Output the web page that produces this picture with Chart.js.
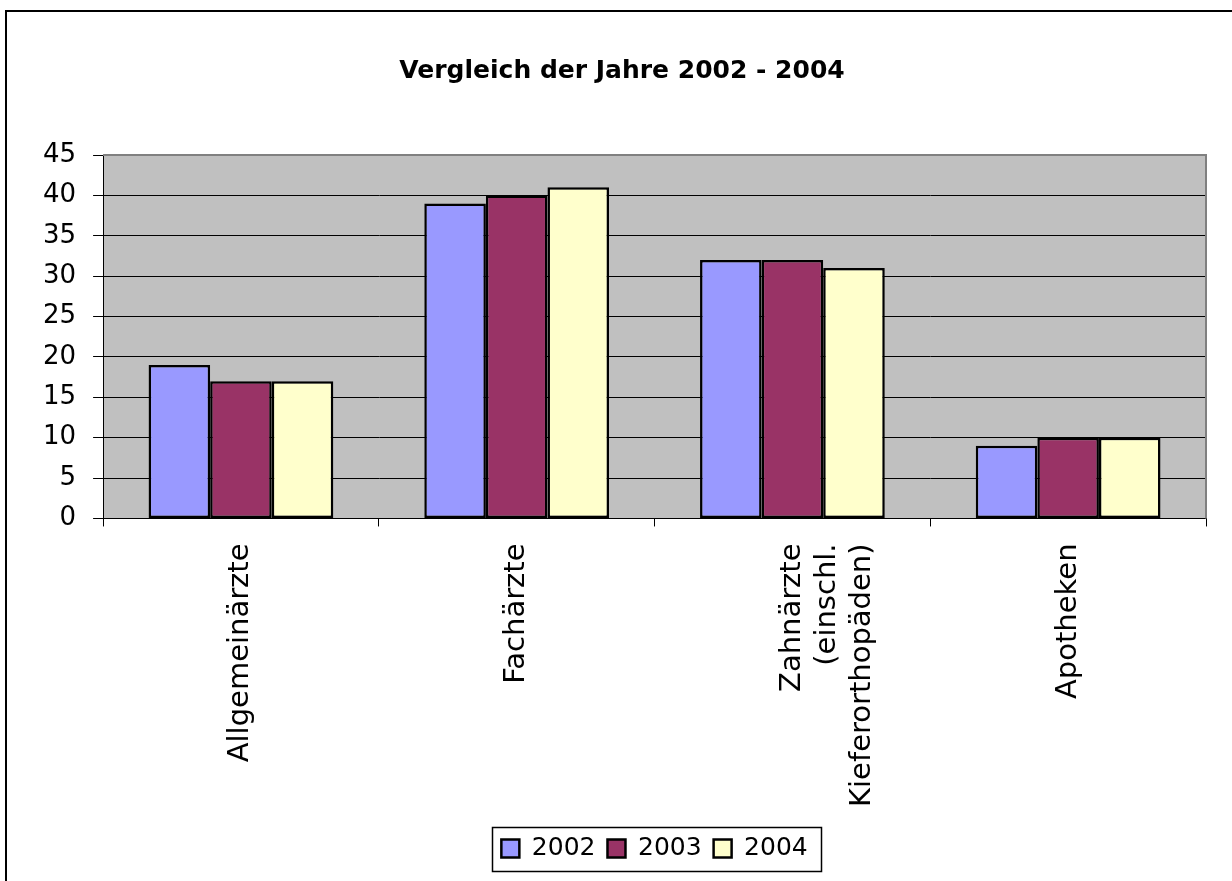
<!DOCTYPE html>
<html>
<head>
<meta charset="utf-8">
<script src="https://cdn.jsdelivr.net/npm/chart.js@4"></script>
<style>
  html, body { margin: 0; padding: 0; background: #fff; }
  #wrap { width: 1232px; height: 881px; position: relative; }
</style>
</head>
<body>
<div id="wrap"><canvas id="chart"></canvas></div>
<script>
// Chart data
var categories = ['Allgemeinärzte', 'Fachärzte', ['Zahnärzte', '(einschl.', 'Kieferorthopäden)'], 'Apotheken'];
var years = ['2002', '2003', '2004'];
var values2002 = [19, 39, 32, 9];
var values2003 = [17, 40, 32, 10];
var values2004 = [17, 41, 31, 10];
var yMin = 0, yMax = 45, yStep = 5;
var titleText = 'Vergleich der Jahre 2002 - 2004';

var barColors = ['#9999FF', '#993366', '#FFFFCC'];

Chart.defaults.font.family = "'DejaVu Sans', sans-serif";
Chart.defaults.color = '#000';

// Background, outer frame, plot area and legend frame
var frame = {
	id: 'frame',
	beforeDraw: function(chart) {
		var ctx = chart.ctx, a = chart.chartArea;
		ctx.save();
		ctx.fillStyle = '#fff';
		ctx.fillRect(0, 0, chart.width, chart.height);
		ctx.strokeStyle = '#000';
		ctx.lineWidth = 2;
		ctx.beginPath();
		ctx.moveTo(6, chart.height);
		ctx.lineTo(6, 11);
		ctx.lineTo(chart.width, 11);
		ctx.stroke();
		ctx.fillStyle = '#c0c0c0';
		ctx.fillRect(a.left, a.top, a.right - a.left, a.bottom - a.top);
		ctx.restore();
	},
	beforeDatasetsDraw: function(chart) {
		var ctx = chart.ctx, a = chart.chartArea;
		ctx.save();
		ctx.strokeStyle = '#808080';
		ctx.lineWidth = 2;
		ctx.beginPath();
		ctx.moveTo(a.left, a.top);
		ctx.lineTo(a.right, a.top);
		ctx.lineTo(a.right, a.bottom);
		ctx.stroke();
		ctx.restore();
	},
	afterLayout: function(chart) {
		// center the legend under the plot area, nudge the title a bit right
		chart.legend.left = chart.chartArea.left;
		chart.legend.right = chart.chartArea.right;
		chart.titleBlock.left += 12;
	},
	afterDraw: function(chart) {
		var boxes = chart.legend.legendHitBoxes;
		if (!boxes || !boxes.length) return;
		var first = boxes[0], last = boxes[boxes.length - 1];
		var x0 = first.left - 9, x1 = last.left + last.width + 14;
		var yc = first.top + first.height / 2;
		var ctx = chart.ctx;
		ctx.save();
		ctx.strokeStyle = '#000';
		ctx.lineWidth = 1.5;
		ctx.strokeRect(Math.round(x0) + 0.5, Math.round(yc - 22) + 0.5, Math.round(x1 - x0), 44);
		ctx.restore();
	}
};

var ctx = document.getElementById('chart').getContext('2d');
var chart = new Chart(ctx, {
	type: 'bar',
	data: {
		labels: categories,
		datasets: [
			{ label: years[0], data: values2002, backgroundColor: barColors[0] },
			{ label: years[1], data: values2003, backgroundColor: barColors[1] },
			{ label: years[2], data: values2004, backgroundColor: barColors[2] }
		]
	},
	options: {
		responsive: true,
		maintainAspectRatio: false,
		animation: false,
		datasets: {
			bar: {
				borderColor: '#000',
				borderWidth: 2.5,
				borderSkipped: false,
				categoryPercentage: 0.67,
				barPercentage: 1
			}
		},
		layout: {
			padding: { left: 26, right: 26, top: 0, bottom: 10 }
		},
		plugins: {
			title: {
				display: true,
				text: titleText,
				font: { size: 25, weight: 'bold' },
				color: '#000',
				padding: { top: 56, bottom: 69 }
			},
			legend: {
				position: 'bottom',
				labels: {
					boxWidth: 18,
					boxHeight: 18,
					padding: 12,
					font: { size: 25 },
					color: '#000'
				}
			},
			tooltip: { enabled: false }
		},
		scales: {
			x: {
				offset: true,
				grid: {
					display: true,
					offset: true,
					drawOnChartArea: false,
					drawTicks: true,
					tickLength: 8,
					color: '#000'
				},
				border: { color: '#000', width: 1 },
				ticks: {
					autoSkip: false,
					minRotation: 90,
					maxRotation: 90,
					padding: 17,
					font: { size: 29 },
					color: '#000'
				}
			},
			y: {
				min: yMin,
				max: yMax,
				ticks: {
					stepSize: yStep,
					padding: 17,
					font: { size: 26 },
					color: '#000'
				},
				grid: {
					color: '#000',
					lineWidth: 1,
					tickLength: 10
				},
				border: { color: '#000', width: 1 }
			}
		}
	},
	plugins: [frame]
});
</script>
</body>
</html>
